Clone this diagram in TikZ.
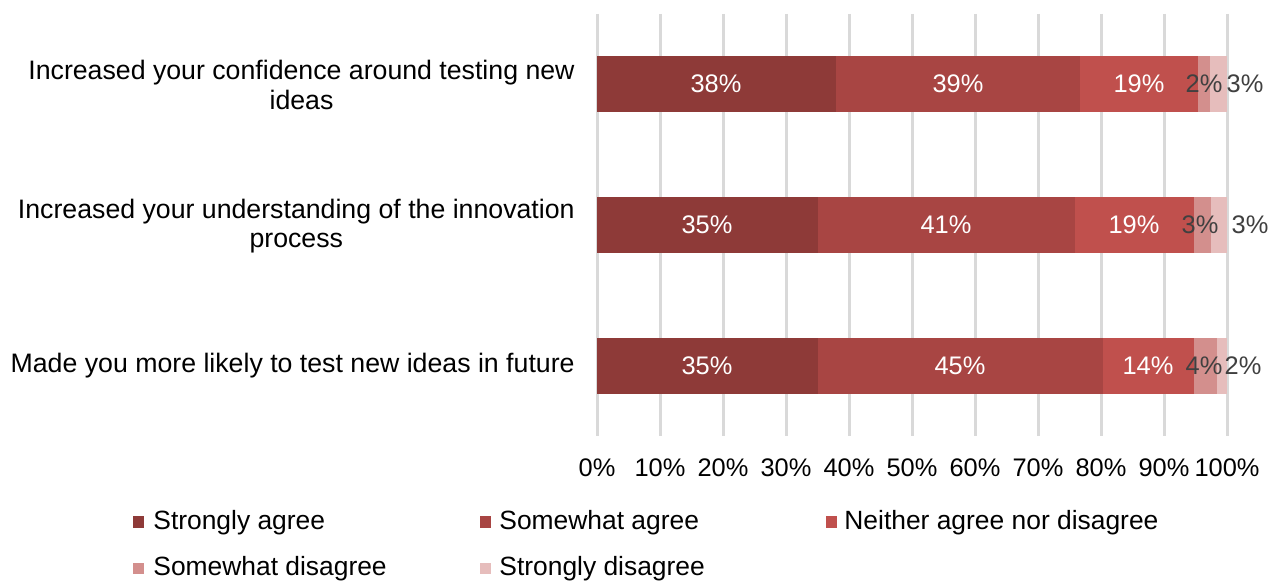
\documentclass[tikz,border=0pt]{standalone}
\usepackage{fontspec}
\setmainfont{Liberation Sans}
\definecolor{sagree}{HTML}{8E3A38}
\definecolor{wagree}{HTML}{A84543}
\definecolor{neither}{HTML}{C0504D}
\definecolor{wdisagree}{HTML}{D38F8D}
\definecolor{sdisagree}{HTML}{E6BDBC}
\definecolor{gridcol}{HTML}{D9D9D9}
\definecolor{darklbl}{HTML}{404040}
\tikzset{
  gridline/.style={draw=gridcol, line width=1.5pt},
  seg/.style={draw=none},
  pctin/.style={text=white, inner sep=0pt},
  pctout/.style={text=darklbl, inner sep=0pt},
  catlabel/.style={anchor=east, align=center, inner sep=0pt, text=black,
    font=\fontsize{13.35}{14.6}\selectfont},
  ticklabel/.style={inner sep=0pt, text=black},
  legbox/.style={minimum size=5.5pt, inner sep=0pt},
  legtext/.style={anchor=west, inner sep=0pt, text=black,
    font=\fontsize{13.2}{14.6}\selectfont},
}

\begin{document}
\begin{tikzpicture}[x=0.5pt, y=-0.5pt, font=\fontsize{12.7}{14.6}\selectfont]
    \useasboundingbox[fill=white] (0,0) rectangle (1272,581);

    % grid and axis
    \foreach \k in {0,...,10} {
        \coordinate (gt\k) at ({597+63*\k},14);
        \coordinate (gb\k) at ({597+63*\k},436);
        \draw[gridline] (gt\k) -- (gb\k);
        \pgfmathtruncatemacro{\p}{10*\k}
        \node[ticklabel] (tick\k) at ({597+63*\k},468) {\p\%};
    }

    % bars: row / y / segment ends
    \foreach \r/\y/\xa/\xb/\xc/\xd in {
        1/84/836/1080/1198/1210,
        2/225/818/1075/1194/1211,
        3/366/818/1103/1194/1217} {
        \fill[seg, sagree]    (597,\y-28) rectangle (\xa,\y+28);
        \fill[seg, wagree]    (\xa,\y-28) rectangle (\xb,\y+28);
        \fill[seg, neither]   (\xb,\y-28) rectangle (\xc,\y+28);
        \fill[seg, wdisagree] (\xc,\y-28) rectangle (\xd,\y+28);
        \fill[seg, sdisagree] (\xd,\y-28) rectangle (1227,\y+28);
    }

    % data labels
    \node[pctin] (r1a) at (716,84) {38\%};
    \node[pctin] (r1b) at (958,84) {39\%};
    \node[pctin] (r1c) at (1139,84) {19\%};
    \node[pctout] (r1d) at (1204,84) {2\%};
    \node[pctout] (r1e) at (1245,84) {3\%};

    \node[pctin] (r2a) at (707,225) {35\%};
    \node[pctin] (r2b) at (946,225) {41\%};
    \node[pctin] (r2c) at (1134,225) {19\%};
    \node[pctout] (r2d) at (1200,225) {3\%};
    \node[pctout] (r2e) at (1250,225) {3\%};

    \node[pctin] (r3a) at (707,366) {35\%};
    \node[pctin] (r3b) at (960,366) {45\%};
    \node[pctin] (r3c) at (1148,366) {14\%};
    \node[pctout] (r3d) at (1204,366) {4\%};
    \node[pctout] (r3e) at (1243,366) {2\%};

    % categories
    \node[catlabel] (cat1) at (575,85) {Increased your confidence around testing new\\[0.2pt]ideas};
    \node[catlabel] (cat2) at (575,226) {Increased your understanding of the innovation\\[0.2pt]process};
    \node[catlabel] (cat3) at (575,366) {Made you more likely to test new ideas in future};

    % legend
    \node[legbox, fill=sagree] (lk1) at (138.5,522) {};
    \node[legtext] (lt1) at (153,523) {Strongly agree};
    \node[legbox, fill=wagree] (lk2) at (485.5,522) {};
    \node[legtext] (lt2) at (499,523) {Somewhat agree};
    \node[legbox, fill=neither] (lk3) at (831.5,522) {};
    \node[legtext] (lt3) at (844,523) {Neither agree nor disagree};
    \node[legbox, fill=wdisagree] (lk4) at (138.5,568) {};
    \node[legtext] (lt4) at (153,569) {Somewhat disagree};
    \node[legbox, fill=sdisagree] (lk5) at (485.5,568) {};
    \node[legtext] (lt5) at (499,569) {Strongly disagree};
\end{tikzpicture}
\end{document}
